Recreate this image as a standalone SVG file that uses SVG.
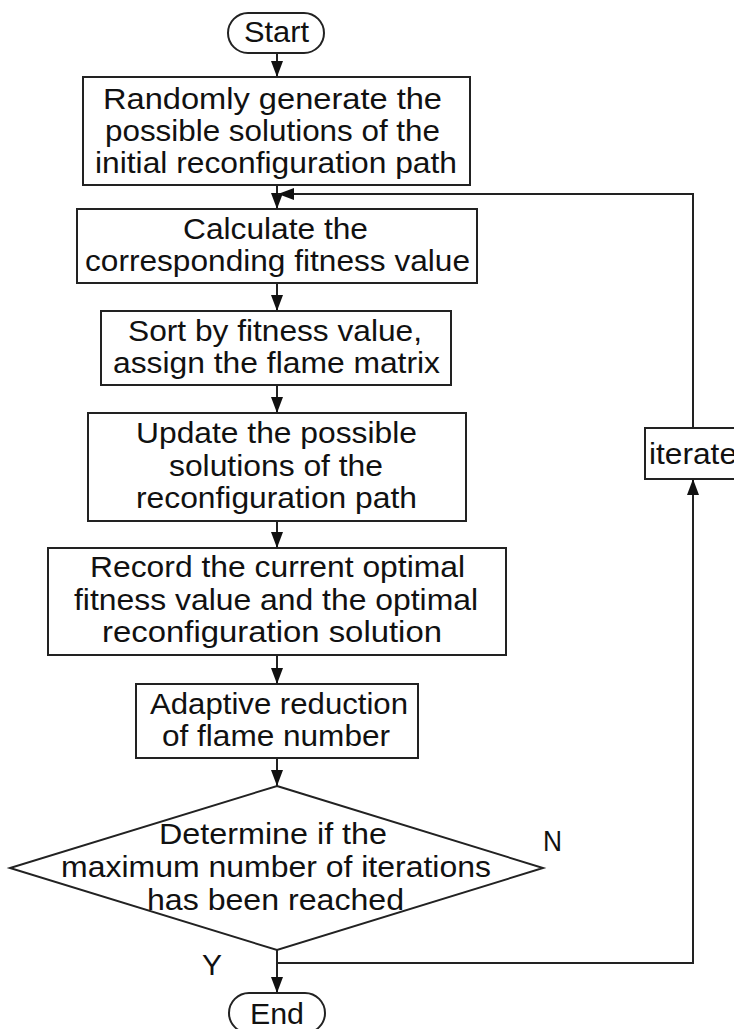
<svg xmlns="http://www.w3.org/2000/svg" width="734" height="1029" viewBox="0 0 734 1029">
<style>
.box{fill:#fff;stroke:#222;stroke-width:2}
.t{font-family:"Liberation Sans",Arial,sans-serif;font-size:30px;fill:#111}
.c{fill:none;stroke:#222;stroke-width:2}
</style>
<defs>
<marker id="ah" markerWidth="16" markerHeight="12" refX="16" refY="6" viewBox="0 0 16 12" markerUnits="userSpaceOnUse" orient="auto">
<path d="M0,0 L16,6 L0,12 Z" fill="#111"/>
</marker>
</defs>
<rect width="734" height="1029" fill="#fff"/>
<g id="connectors">
<line class="c" x1="277" y1="53" x2="277" y2="77" marker-end="url(#ah)"/>
<line class="c" x1="277" y1="185" x2="277" y2="209" marker-end="url(#ah)"/>
<line class="c" x1="277" y1="283" x2="277" y2="311" marker-end="url(#ah)"/>
<line class="c" x1="277" y1="385" x2="277" y2="413" marker-end="url(#ah)"/>
<line class="c" x1="277" y1="521" x2="277" y2="548" marker-end="url(#ah)"/>
<line class="c" x1="277" y1="655" x2="277" y2="684" marker-end="url(#ah)"/>
<line class="c" x1="277" y1="758" x2="277" y2="786" marker-end="url(#ah)"/>
<line class="c" x1="277" y1="950" x2="277" y2="993" marker-end="url(#ah)"/>
<polyline class="c" points="277,963 693,963 693,479" marker-end="url(#ah)"/>
<polyline class="c" points="693,428 693,194 278,194" marker-end="url(#ah)"/>
</g>
<g id="start">
<rect class="box" x="228" y="13" width="96" height="40" rx="20"/>
<text class="t" x="244" y="42" textLength="65" lengthAdjust="spacingAndGlyphs">Start</text>
</g>
<g id="box1">
<rect class="box" x="83" y="77" width="387" height="108"/>
<text class="t" x="103" y="109" textLength="339" lengthAdjust="spacingAndGlyphs">Randomly generate the</text>
<text class="t" x="105" y="141" textLength="335" lengthAdjust="spacingAndGlyphs">possible solutions of the</text>
<text class="t" x="95" y="173" textLength="362" lengthAdjust="spacingAndGlyphs">initial reconfiguration path</text>
</g>
<g id="box2">
<rect class="box" x="77" y="209" width="400" height="74"/>
<text class="t" x="183" y="239" textLength="185" lengthAdjust="spacingAndGlyphs">Calculate the</text>
<text class="t" x="85" y="271" textLength="385" lengthAdjust="spacingAndGlyphs">corresponding fitness value</text>
</g>
<g id="box3">
<rect class="box" x="101" y="311" width="350" height="74"/>
<text class="t" x="128" y="341" textLength="294" lengthAdjust="spacingAndGlyphs">Sort by fitness value,</text>
<text class="t" x="113" y="373" textLength="327" lengthAdjust="spacingAndGlyphs">assign the flame matrix</text>
</g>
<g id="box4">
<rect class="box" x="88" y="413" width="378" height="108"/>
<text class="t" x="136" y="443" textLength="281" lengthAdjust="spacingAndGlyphs">Update the possible</text>
<text class="t" x="169" y="476" textLength="214" lengthAdjust="spacingAndGlyphs">solutions of the</text>
<text class="t" x="136" y="508" textLength="281" lengthAdjust="spacingAndGlyphs">reconfiguration path</text>
</g>
<g id="box5">
<rect class="box" x="48" y="548" width="458" height="107"/>
<text class="t" x="90" y="577" textLength="375" lengthAdjust="spacingAndGlyphs">Record the current optimal</text>
<text class="t" x="74" y="610" textLength="404" lengthAdjust="spacingAndGlyphs">fitness value and the optimal</text>
<text class="t" x="102" y="642" textLength="340" lengthAdjust="spacingAndGlyphs">reconfiguration solution</text>
</g>
<g id="box6">
<rect class="box" x="136" y="684" width="282" height="74"/>
<text class="t" x="150" y="714" textLength="258" lengthAdjust="spacingAndGlyphs">Adaptive reduction</text>
<text class="t" x="162" y="746" textLength="228" lengthAdjust="spacingAndGlyphs">of flame number</text>
</g>
<g id="decision">
<polygon class="box" points="277,786 543,868 277,950 10,868"/>
<text class="t" x="159" y="844" textLength="228" lengthAdjust="spacingAndGlyphs">Determine if the</text>
<text class="t" x="61" y="877" textLength="430" lengthAdjust="spacingAndGlyphs">maximum number of iterations</text>
<text class="t" x="147" y="910" textLength="257" lengthAdjust="spacingAndGlyphs">has been reached</text>
</g>
<g id="labels">
<text class="t" x="543" y="851" textLength="19" lengthAdjust="spacingAndGlyphs">N</text>
<text class="t" x="202" y="975" textLength="20" lengthAdjust="spacingAndGlyphs">Y</text>
</g>
<g id="iterate">
<rect class="box" x="645" y="428" width="100" height="51"/>
<text class="t" x="649" y="464" textLength="88" lengthAdjust="spacingAndGlyphs">iterate</text>
</g>
<g id="end">
<rect class="box" x="229" y="993" width="96" height="40" rx="20"/>
<text class="t" x="250" y="1024" textLength="54" lengthAdjust="spacingAndGlyphs">End</text>
</g>
</svg>
